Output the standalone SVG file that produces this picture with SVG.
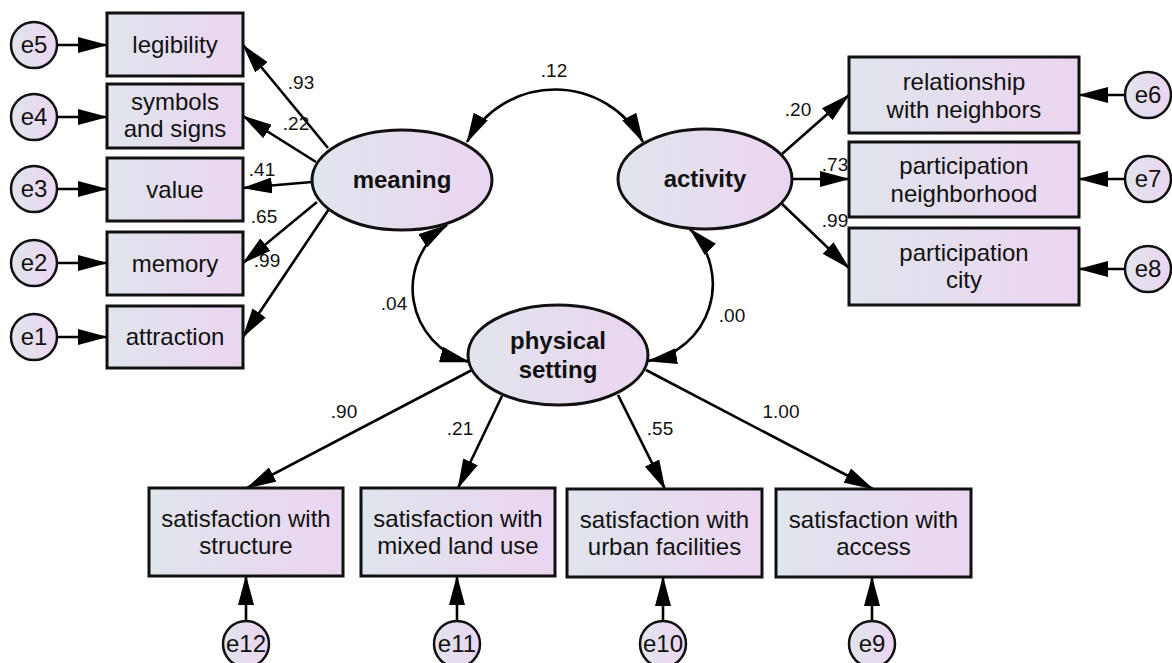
<svg xmlns="http://www.w3.org/2000/svg" width="1172" height="663" viewBox="0 0 1172 663">
  <defs>
    <linearGradient id="fillGrad" x1="0" y1="0" x2="1" y2="0">
      <stop offset="0" stop-color="#e0e5ec"/>
      <stop offset="1" stop-color="#ebd5f1"/>
    </linearGradient>
    <marker id="arrow" viewBox="0 0 30 16" markerWidth="30" markerHeight="16" refX="29" refY="8" orient="auto-start-reverse" markerUnits="userSpaceOnUse">
      <path d="M0,0 L30,8 L0,16 z" fill="#000"/>
    </marker>
    <style>
      .box { fill: url(#fillGrad); stroke: #111; stroke-width: 3; }
      .latent { fill: url(#fillGrad); stroke: #111; stroke-width: 3; }
      .err { fill: url(#fillGrad); stroke: #111; stroke-width: 2.5; }
      .lbl { font-family: "Liberation Sans", Arial, sans-serif; font-size: 24px; fill: #111; text-anchor: middle; }
      .bold { font-weight: bold; }
      .num { font-family: "Liberation Sans", Arial, sans-serif; font-size: 19px; fill: #111; text-anchor: middle; }
      .conn line, .conn path { stroke: #000; stroke-width: 2.6; fill: none; marker-end: url(#arrow); }
      .conn path.cov { marker-start: url(#arrow); }
    </style>
  </defs>

  <rect width="1172" height="663" fill="#fff"/>

  <!-- connectors -->
  <g id="connectors" class="conn">
    <!-- error terms to indicators -->
    <line x1="57" y1="45" x2="107" y2="45"/>
    <line x1="57" y1="117" x2="107" y2="117"/>
    <line x1="57" y1="189" x2="107" y2="189"/>
    <line x1="57" y1="263" x2="107" y2="263"/>
    <line x1="57" y1="337" x2="107" y2="337"/>
    <line x1="1125" y1="95" x2="1079" y2="95"/>
    <line x1="1125" y1="179" x2="1079" y2="179"/>
    <line x1="1125" y1="269" x2="1079" y2="269"/>
    <line x1="246" y1="621" x2="246" y2="576"/>
    <line x1="457" y1="621" x2="457" y2="576"/>
    <line x1="663" y1="621" x2="663" y2="577"/>
    <line x1="872" y1="621" x2="872" y2="577"/>
    <!-- meaning loadings -->
    <line x1="328" y1="148" x2="243" y2="45"/>
    <line x1="316" y1="162" x2="243" y2="116"/>
    <line x1="312" y1="182" x2="243" y2="188"/>
    <line x1="317" y1="202" x2="243" y2="263"/>
    <line x1="329" y1="209" x2="243" y2="337"/>
    <!-- activity loadings -->
    <line x1="782" y1="154" x2="849" y2="95"/>
    <line x1="792" y1="179" x2="849" y2="179"/>
    <line x1="781" y1="203" x2="849" y2="268"/>
    <!-- physical setting loadings -->
    <line x1="472" y1="370" x2="247" y2="488"/>
    <line x1="502" y1="396" x2="458" y2="488"/>
    <line x1="618" y1="395" x2="665" y2="489"/>
    <line x1="646" y1="370" x2="873" y2="489"/>
    <!-- covariances -->
    <path class="cov" d="M467,142 A100,100 0 0 1 643,142"/>
    <path class="cov" d="M447,225 A76,76 0 0 0 469,362"/>
    <path class="cov" d="M690,229 A78,78 0 0 1 648,361"/>
  </g>

  <!-- loading and covariance values -->
  <g id="values">
    <text class="num" x="301" y="89">.93</text>
    <text class="num" x="296" y="130">.22</text>
    <text class="num" x="262" y="176">.41</text>
    <text class="num" x="264" y="223">.65</text>
    <text class="num" x="267" y="267">.99</text>
    <text class="num" x="554" y="77">.12</text>
    <text class="num" x="798" y="116">.20</text>
    <text class="num" x="835" y="171">.73</text>
    <text class="num" x="835" y="227">.99</text>
    <text class="num" x="394" y="310">.04</text>
    <text class="num" x="732" y="322">.00</text>
    <text class="num" x="344" y="418">.90</text>
    <text class="num" x="460" y="435">.21</text>
    <text class="num" x="660" y="435">.55</text>
    <text class="num" x="781" y="418">1.00</text>
  </g>

  <!-- latent variables -->
  <g id="meaning">
    <ellipse class="latent" cx="402" cy="180" rx="90" ry="50"/>
    <text class="lbl bold" x="402" y="188">meaning</text>
  </g>
  <g id="activity">
    <ellipse class="latent" cx="705" cy="179" rx="87" ry="50"/>
    <text class="lbl bold" x="705" y="187">activity</text>
  </g>
  <g id="physical-setting">
    <ellipse class="latent" cx="558" cy="355" rx="90" ry="50"/>
    <text class="lbl bold" x="558" y="349">physical</text>
    <text class="lbl bold" x="558" y="378">setting</text>
  </g>

  <!-- meaning indicators -->
  <g id="legibility">
    <rect class="box" x="107" y="13" width="136" height="63"/>
    <text class="lbl" x="175" y="53">legibility</text>
  </g>
  <g id="symbols">
    <rect class="box" x="107" y="84" width="136" height="64"/>
    <text class="lbl" x="175" y="110">symbols</text>
    <text class="lbl" x="175" y="137">and signs</text>
  </g>
  <g id="value">
    <rect class="box" x="107" y="158" width="136" height="63"/>
    <text class="lbl" x="175" y="198">value</text>
  </g>
  <g id="memory">
    <rect class="box" x="107" y="232" width="136" height="63"/>
    <text class="lbl" x="175" y="272">memory</text>
  </g>
  <g id="attraction">
    <rect class="box" x="107" y="306" width="136" height="62"/>
    <text class="lbl" x="175" y="345">attraction</text>
  </g>

  <!-- activity indicators -->
  <g id="relationship">
    <rect class="box" x="849" y="57" width="230" height="76"/>
    <text class="lbl" x="964" y="90">relationship</text>
    <text class="lbl" x="964" y="118">with neighbors</text>
  </g>
  <g id="participation-neighborhood">
    <rect class="box" x="849" y="142" width="230" height="75"/>
    <text class="lbl" x="964" y="174">participation</text>
    <text class="lbl" x="964" y="202">neighborhood</text>
  </g>
  <g id="participation-city">
    <rect class="box" x="849" y="228" width="230" height="77"/>
    <text class="lbl" x="964" y="261">participation</text>
    <text class="lbl" x="964" y="288">city</text>
  </g>

  <!-- physical setting indicators -->
  <g id="sat-structure">
    <rect class="box" x="149" y="488" width="194" height="88"/>
    <text class="lbl" x="246" y="527">satisfaction with</text>
    <text class="lbl" x="246" y="554">structure</text>
  </g>
  <g id="sat-mixed">
    <rect class="box" x="361" y="488" width="194" height="88"/>
    <text class="lbl" x="458" y="527">satisfaction with</text>
    <text class="lbl" x="458" y="554">mixed land use</text>
  </g>
  <g id="sat-facilities">
    <rect class="box" x="567" y="489" width="195" height="88"/>
    <text class="lbl" x="664.5" y="528">satisfaction with</text>
    <text class="lbl" x="664.5" y="555">urban facilities</text>
  </g>
  <g id="sat-access">
    <rect class="box" x="776" y="489" width="195" height="88"/>
    <text class="lbl" x="873.5" y="528">satisfaction with</text>
    <text class="lbl" x="873.5" y="555">access</text>
  </g>

  <!-- error terms -->
  <g id="e5"><circle class="err" cx="34" cy="45" r="23"/><text class="lbl" x="34" y="53">e5</text></g>
  <g id="e4"><circle class="err" cx="34" cy="117" r="23"/><text class="lbl" x="34" y="125">e4</text></g>
  <g id="e3"><circle class="err" cx="34" cy="189" r="23"/><text class="lbl" x="34" y="197">e3</text></g>
  <g id="e2"><circle class="err" cx="34" cy="263" r="23"/><text class="lbl" x="34" y="271">e2</text></g>
  <g id="e1"><circle class="err" cx="34" cy="337" r="23"/><text class="lbl" x="34" y="345">e1</text></g>
  <g id="e6"><circle class="err" cx="1148" cy="95" r="23"/><text class="lbl" x="1148" y="103">e6</text></g>
  <g id="e7"><circle class="err" cx="1148" cy="179" r="23"/><text class="lbl" x="1148" y="187">e7</text></g>
  <g id="e8"><circle class="err" cx="1148" cy="269" r="23"/><text class="lbl" x="1148" y="277">e8</text></g>
  <g id="e12"><circle class="err" cx="246" cy="644" r="23"/><text class="lbl" x="246" y="652">e12</text></g>
  <g id="e11"><circle class="err" cx="457" cy="644" r="23"/><text class="lbl" x="457" y="652">e11</text></g>
  <g id="e10"><circle class="err" cx="663" cy="644" r="23"/><text class="lbl" x="663" y="652">e10</text></g>
  <g id="e9"><circle class="err" cx="872" cy="644" r="23"/><text class="lbl" x="872" y="652">e9</text></g>
</svg>
